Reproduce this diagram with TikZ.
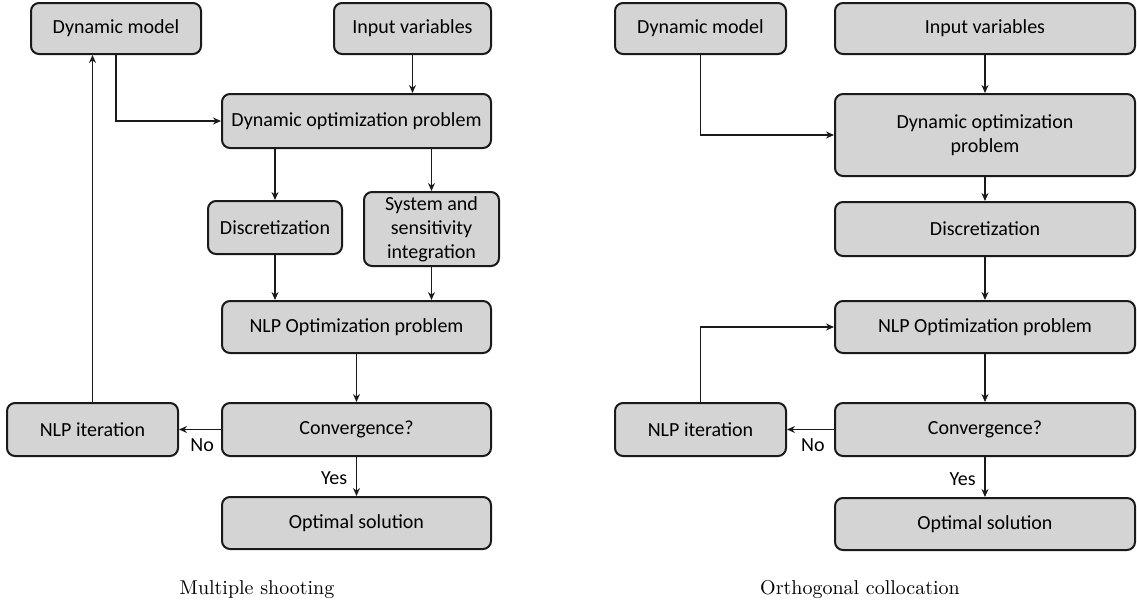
\documentclass[tikz,border=0pt]{standalone}
\usepackage{fontspec}
\newfontfamily\boxfont{Carlito}
\usepackage{xcolor}
\usepackage{tikz}
\usetikzlibrary{arrows.meta, positioning, calc}
\definecolor{boxgray}{HTML}{D4D4D4}
\definecolor{edgedark}{HTML}{1A1A1A}

\begin{document}
\begin{tikzpicture}[
    x=0.5pt, y=-0.5pt,
    font=\boxfont,
    box/.style={draw=edgedark, line width=1pt, fill=boxgray, rounded corners=4pt, align=center, inner sep=0pt},
    arr/.style={-{Stealth[length=4pt,width=3.5pt]}, line width=0.6pt, draw=edgedark},
    caption/.style={font=\rmfamily},
  ]
    \useasboundingbox (0,0) rectangle (1137,606);

    \node[box, minimum width=85pt, minimum height=25.5pt] (dm) at (116,28.5) {Dynamic model};
    \node[box, minimum width=78.5pt, minimum height=25.5pt] (iv) at (412.5,28.5) {Input variables};
    \node[box, minimum width=134.5pt, minimum height=27pt] (dop) at (356.5,121) {Dynamic optimization problem};
    \node[box, minimum width=67pt, minimum height=26.5pt] (disc) at (275,227.5) {Discretization};
    \node[box, minimum width=67.5pt, minimum height=37pt] (ssi) at (431.5,229) {System and\\sensitivity\\integration};
    \node[box, minimum width=134.5pt, minimum height=26pt] (nlp) at (356.5,327) {NLP Optimization problem};
    \node[box, minimum width=134.5pt, minimum height=26.5pt] (conv) at (356.5,429.5) {Convergence?};
    \node[box, minimum width=85.5pt, minimum height=26.5pt] (iter) at (92.5,429.5) {NLP iteration};
    \node[box, minimum width=134.5pt, minimum height=26pt] (opt) at (356.5,523) {Optimal solution};
    \node[caption] (capl) at (257,590) {Multiple shooting};

    \draw[arr] (dm.south) |- (dop.west);
    \draw[arr] (iv.south) -- (iv.south |- dop.north);
    \draw[arr] (disc.north |- dop.south) -- (disc.north);
    \draw[arr] (ssi.north |- dop.south) -- (ssi.north);
    \draw[arr] (disc.south) -- (disc.south |- nlp.north);
    \draw[arr] (ssi.south) -- (ssi.south |- nlp.north);
    \draw[arr] (nlp.south) -- (conv.north);
    \draw[arr] (conv.west) -- node[pos=0.45, below=1pt] (nol) {No} (iter.east);
    \draw[arr] (conv.south) -- node[pos=0.55, left=1pt] (yesl) {Yes} (opt.north);
    \draw[arr] (iter.north) -- (iter.north |- dm.south);

    \node[box, minimum width=85.5pt, minimum height=25.5pt] (dm2) at (700.5,28.5) {Dynamic model};
    \node[box, minimum width=150pt, minimum height=25.5pt] (iv2) at (985,28.5) {Input variables};
    \node[box, minimum width=150pt, minimum height=41pt] (dop2) at (985,135) {Dynamic optimization\\problem};
    \node[box, minimum width=150pt, minimum height=27pt] (disc2) at (985,229) {Discretization};
    \node[box, minimum width=150pt, minimum height=26pt] (nlp2) at (985,327) {NLP Optimization problem};
    \node[box, minimum width=150pt, minimum height=26.5pt] (conv2) at (985,429.5) {Convergence?};
    \node[box, minimum width=85.5pt, minimum height=26.5pt] (iter2) at (700.5,429.5) {NLP iteration};
    \node[box, minimum width=150pt, minimum height=26pt] (opt2) at (985,524) {Optimal solution};
    \node[caption] (capr) at (860,590) {Orthogonal collocation};

    \draw[arr] (dm2.south) |- (dop2.west);
    \draw[arr] (iv2.south) -- (dop2.north);
    \draw[arr] (dop2.south) -- (disc2.north);
    \draw[arr] (disc2.south) -- (nlp2.north);
    \draw[arr] (nlp2.south) -- (conv2.north);
    \draw[arr] (conv2.west) -- node[pos=0.45, below=1pt] (nor) {No} (iter2.east);
    \draw[arr] (conv2.south) -- node[pos=0.55, left=1pt] (yesr) {Yes} (opt2.north);
    \draw[arr] (iter2.north) |- (nlp2.west);
  \end{tikzpicture}
\end{document}
